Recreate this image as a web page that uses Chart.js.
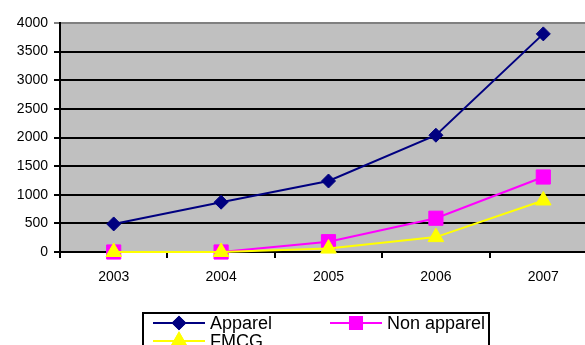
<!DOCTYPE html>
<html>
<head>
<meta charset="utf-8">
<script src="https://cdn.jsdelivr.net/npm/chart.js@4/dist/chart.umd.min.js"></script>
<style>
  html, body { margin: 0; padding: 0; background: #fff; overflow: hidden; }
  #wrap { position: relative; width: 608px; height: 345px; }
</style>
</head>
<body>
<div id="wrap"><canvas id="c" width="608" height="345"></canvas></div>
<script>
// Sales by retail segment, 2003-2007
const years = ['2003', '2004', '2005', '2006', '2007'];
const apparel = [490, 870, 1240, 2040, 3810];
const nonApparel = [0, 0, 180, 590, 1310];
const fmcg = [0, 0, 60, 260, 900];
const seriesNames = ['Apparel', 'Non apparel', 'FMCG'];

const FONT = '"Liberation Sans", Arial, sans-serif';

// gray plot background
const plotBg = {
  id: 'plotBg',
  beforeDraw(chart) {
    const { ctx, chartArea: a } = chart;
    ctx.save();
    ctx.fillStyle = '#C0C0C0';
    ctx.fillRect(a.left, a.top, a.right - a.left, a.bottom - a.top);
    ctx.restore();
  }
};

// boxed legend with line + marker samples, two columns
const boxLegend = {
  id: 'boxLegend',
  afterDraw(chart) {
    const { ctx } = chart;
    ctx.save();
    ctx.lineWidth = 2;
    ctx.strokeStyle = '#000';
    ctx.fillStyle = '#fff';
    ctx.fillRect(143, 313, 346, 60);
    ctx.strokeRect(143, 313, 346, 60);
    const slots = [
      { x: 153, y: 323 },
      { x: 330, y: 323 },
      { x: 153, y: 341 }
    ];
    chart.data.datasets.forEach((ds, i) => {
      const s = slots[i];
      ctx.strokeStyle = ds.borderColor;
      ctx.lineWidth = 2;
      ctx.beginPath();
      ctx.moveTo(s.x, s.y);
      ctx.lineTo(s.x + 52, s.y);
      ctx.stroke();
      Chart.helpers.drawPoint(ctx, {
        pointStyle: ds.pointStyle,
        radius: ds.pointRadius * 0.85,
        borderWidth: 1,
        rotation: 0
      }, s.x + 26, s.y);
      ctx.fillStyle = ds.backgroundColor;
      ctx.strokeStyle = ds.borderColor;
      ctx.fill();
      ctx.stroke();
      ctx.fillStyle = '#000';
      ctx.font = '18px ' + FONT;
      ctx.textBaseline = 'middle';
      ctx.textAlign = 'left';
      ctx.fillText(ds.label, s.x + 57, s.y + 1);
    });
    ctx.restore();
  }
};

new Chart(document.getElementById('c'), {
  type: 'line',
  data: {
    labels: years,
    datasets: [
      {
        label: seriesNames[0], data: apparel,
        borderColor: '#000080', backgroundColor: '#000080',
        borderWidth: 2, pointStyle: 'rectRot', pointRadius: 7,
        pointBorderWidth: 1, order: 2, tension: 0, clip: false
      },
      {
        label: seriesNames[1], data: nonApparel,
        borderColor: '#FF00FF', backgroundColor: '#FF00FF',
        borderWidth: 2, pointStyle: 'rect', pointRadius: 10,
        pointBorderWidth: 1, order: 1, tension: 0, clip: false
      },
      {
        label: seriesNames[2], data: fmcg,
        borderColor: '#FFFF00', backgroundColor: '#FFFF00',
        borderWidth: 2, pointStyle: 'triangle', pointRadius: 9,
        pointBorderWidth: 1, order: 0, tension: 0, clip: false
      }
    ]
  },
  options: {
    responsive: false,
    animation: false,
    layout: { padding: { top: 23, right: 5, left: 0, bottom: 0 } },
    plugins: { legend: { display: false }, tooltip: { enabled: false } },
    elements: { point: { hoverRadius: 7 } },
    scales: {
      x: {
        offset: true,
        afterFit(scale) { scale.height = 93; },
        grid: {
          offset: true, drawOnChartArea: false, drawTicks: true,
          tickLength: 6, color: '#000', lineWidth: 2
        },
        border: { color: '#000', width: 2 },
        ticks: { color: '#000', font: { family: FONT, size: 14 }, padding: 11 }
      },
      y: {
        min: 0, max: 4000,
        afterFit(scale) { scale.width = 60; },
        grid: {
          tickLength: 6, lineWidth: 2,
          color: (c) => (c.tick && c.tick.value === 4000 ? '#808080' : '#000')
        },
        border: { color: '#000', width: 2 },
        ticks: {
          stepSize: 500, color: '#000', font: { family: FONT, size: 14 }, padding: 6,
          callback: (v) => String(v)
        }
      }
    }
  },
  plugins: [plotBg, boxLegend]
});
</script>
</body>
</html>
